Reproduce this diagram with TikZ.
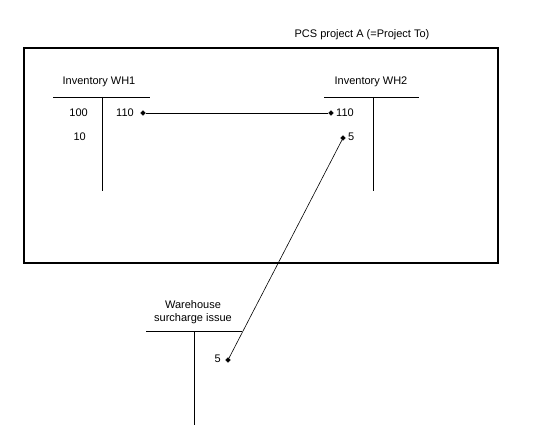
\documentclass[tikz,border=0pt]{standalone}
\usepackage{fontspec}
\setmainfont{Liberation Sans}
\usepackage{tikz}
\usetikzlibrary{shapes.geometric}

\begin{document}
\begin{tikzpicture}[
    x=1pt,y=-1pt,
    lbl/.style={inner sep=0pt,align=center,font=\fontsize{11}{13}\selectfont},
    dot/.style={draw,fill,diamond,inner sep=0pt,minimum size=5pt},
    tline/.style={line width=0.9pt},
    link/.style={line width=0.6pt}
]
\useasboundingbox (0,0) rectangle (540,446);
% project frame
\draw[line width=2pt] (24,48) rectangle (498,263);
\node[lbl] (title) at (362,35) {PCS project A (=Project To)};

% account WH1
\node[lbl] (wh1) at (99,82) {Inventory WH1};
\draw[tline] (53,97) -- (150,97);
\draw[tline] (102,97) -- (102,191);
\node[lbl,anchor=east] (wh1d1) at (88,113) {100};
\node[lbl,anchor=east] (wh1d2) at (86,137) {10};
\node[lbl] (wh1c1) at (125,113) {110};
\node[dot] (wh1p) at (143,113) {};

% account WH2
\node[lbl] (wh2) at (371,82) {Inventory WH2};
\draw[tline] (324,97) -- (419,97);
\draw[tline] (373,97) -- (373,191);
\node[dot] (wh2p1) at (331,113) {};
\node[lbl,anchor=west] (wh2d1) at (336,113) {110};
\node[dot] (wh2p2) at (343,138) {};
\node[lbl,anchor=west] (wh2d2) at (348,137) {5};

% account surcharge
\node[lbl] (sur) at (193,312) {Warehouse\\surcharge issue};
\draw[tline] (146,331) -- (242,331);
\draw[tline] (194,331) -- (194,425);
\node[lbl,anchor=east] (surc1) at (221,359) {5};
\node[dot] (surp) at (228,360) {};

\draw[link] (wh1p) -- (wh2p1);
\draw[link] (surp) -- (wh2p2);
\end{tikzpicture}
\end{document}
